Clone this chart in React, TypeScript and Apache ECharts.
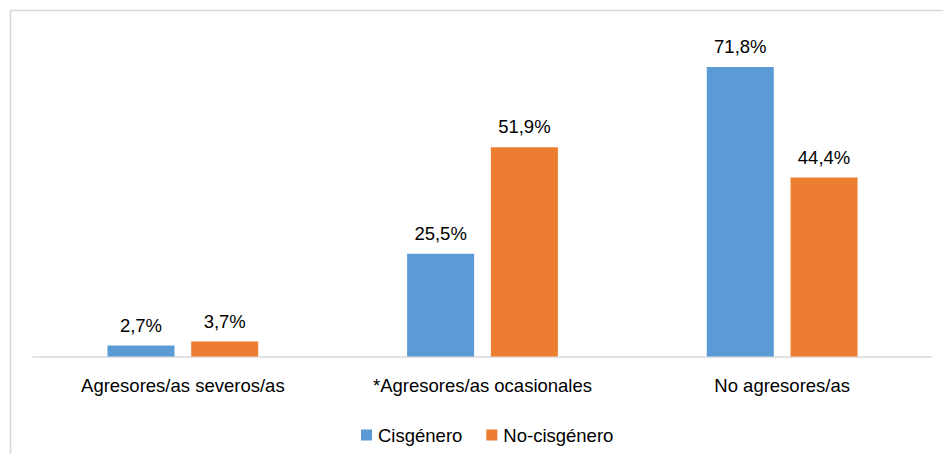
import React, { useEffect, useRef } from "react";
import * as echarts from "echarts";

const categories = ["Agresores/as severos/as", "*Agresores/as ocasionales", "No agresores/as"];
const cisgenero = [2.7, 25.5, 71.8];
const noCisgenero = [3.7, 51.9, 44.4];
const seriesNames = ["Cisgénero", "No-cisgénero"];

const fmt = (v: number) => v.toFixed(1).replace(".", ",") + "%";

export default function App() {
  const ref = useRef<HTMLDivElement>(null);
  useEffect(() => {
    document.body.style.margin = "0";
    const chart = echarts.init(ref.current!, null, { renderer: "svg" });
    const font = "'Liberation Sans', Arial, sans-serif";
    const label = {
      show: true,
      position: "top" as const,
      distance: 11,
      color: "#000",
      fontSize: 18.5,
      fontFamily: font,
      formatter: (p: any) => fmt(p.value),
    };
    chart.setOption({
      animation: false,
      backgroundColor: "#fff",
      textStyle: { fontFamily: font },
      grid: { left: 33, right: 11, top: 34, bottom: 97.5 },
      legend: {
        data: seriesNames,
        top: 420.5,
        left: 356,
        icon: "rect",
        itemWidth: 11,
        itemHeight: 11,
        itemGap: 24,
        textStyle: { fontSize: 18.5, color: "#000", fontFamily: font, padding: [0, 0, 0, 1] },
      },
      xAxis: {
        type: "category",
        data: categories,
        axisLine: { lineStyle: { color: "#d9d9d9", width: 1.5 } },
        axisTick: { show: false },
        axisLabel: { color: "#000", fontSize: 18.5, margin: 19, fontFamily: font },
      },
      yAxis: {
        type: "value",
        min: 0,
        max: 80,
        show: false,
        splitLine: { show: false },
      },
      graphic: [
        {
          type: "polyline",
          shape: { points: [[10.5, 454], [10.5, 10.5], [943, 10.5]] },
          style: { stroke: "#d9d9d9", lineWidth: 1.5, fill: "none" },
          silent: true,
        },
      ],
      series: [
        {
          name: seriesNames[0],
          type: "bar",
          data: cisgenero,
          barWidth: 67,
          barGap: "25%",
          itemStyle: { color: "#5B9BD5" },
          label,
        },
        {
          name: seriesNames[1],
          type: "bar",
          data: noCisgenero,
          barWidth: 67,
          barGap: "25%",
          itemStyle: { color: "#ED7D31" },
          label,
        },
      ],
    });
    return () => chart.dispose();
  }, []);
  return (
    <div
      ref={ref}
      style={{ position: "fixed", left: 0, top: 0, width: 943, height: 454 }}
    />
  );
}
